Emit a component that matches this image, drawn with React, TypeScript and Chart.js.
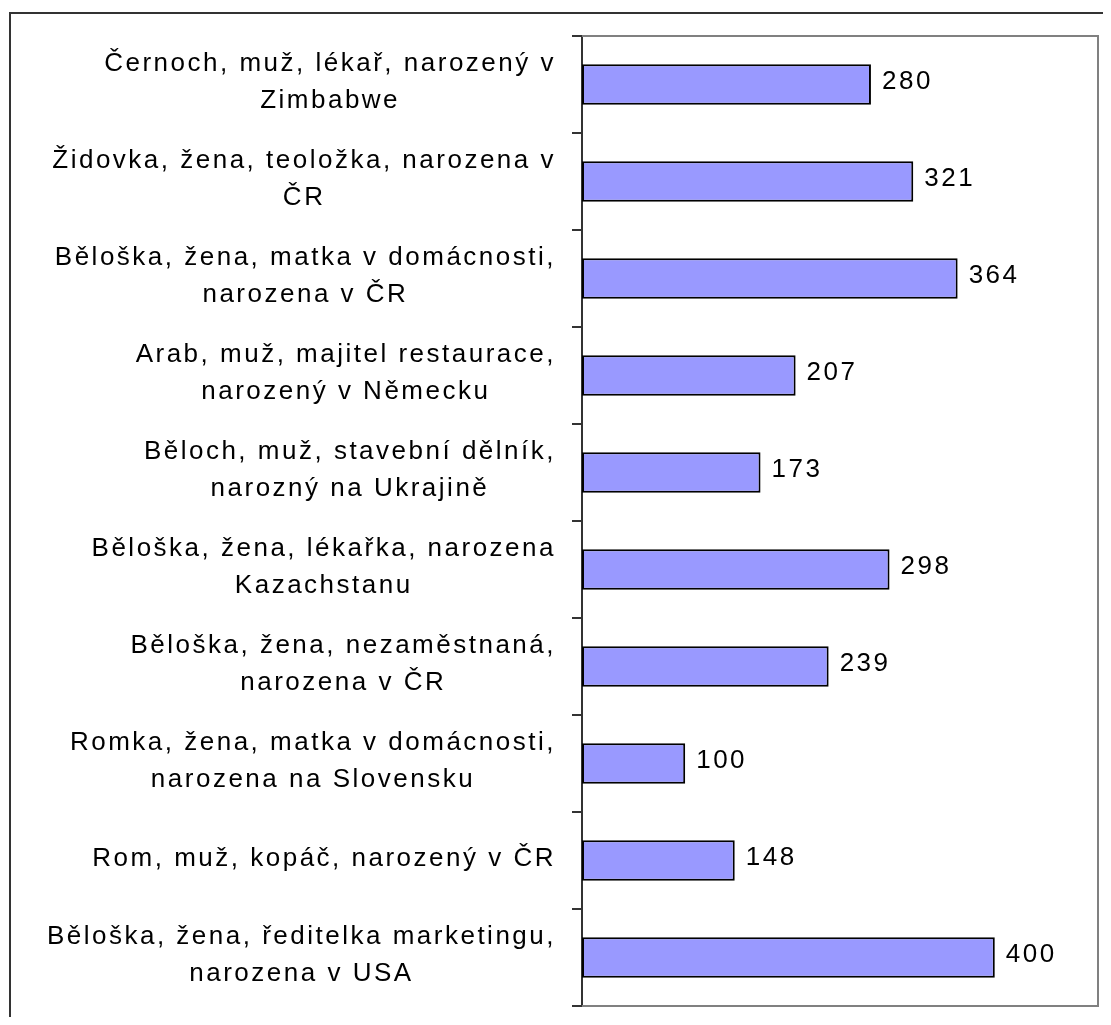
import { useEffect, useRef } from 'react';
import { Chart, registerables } from 'chart.js';

Chart.register(...registerables);

const categories: string[][] = [
  ['Černoch, muž, lékař, narozený v', 'Zimbabwe'],
  ['Židovka, žena, teoložka, narozena v', 'ČR'],
  ['Běloška, žena, matka v domácnosti,', 'narozena v ČR'],
  ['Arab, muž, majitel restaurace,', 'narozený v Německu'],
  ['Běloch, muž, stavební dělník,', 'narozný na Ukrajině'],
  ['Běloška, žena, lékařka, narozena', 'Kazachstanu'],
  ['Běloška, žena, nezaměstnaná,', 'narozena v ČR'],
  ['Romka, žena, matka v domácnosti,', 'narozena na Slovensku'],
  ['Rom, muž, kopáč, narozený v ČR'],
  ['Běloška, žena, ředitelka marketingu,', 'narozena v USA'],
];
const values: number[] = [280, 321, 364, 207, 173, 298, 239, 100, 148, 400];
const axisMin = 0;
const axisMax = 500;

const FONT = '"Liberation Sans", Arial, sans-serif';
const LETTER = '2.5px';
const LINE_H = 37;

const spacingPlugin = {
  id: 'spacing',
  beforeLayout(chart: any) {
    chart.ctx.letterSpacing = LETTER;
  },
  beforeDraw(chart: any) {
    const ctx = chart.ctx;
    ctx.letterSpacing = LETTER;
    // outer frame
    ctx.save();
    ctx.strokeStyle = '#333333';
    ctx.lineWidth = 2;
    ctx.strokeRect(2, 5, chart.width + 20, chart.height + 20);
    ctx.restore();
  },
};

const frameAndLabels = {
  id: 'frameAndLabels',
  afterDatasetsDraw(chart: any) {
    const ctx = chart.ctx;
    const { left, right, top, bottom } = chart.chartArea;
    ctx.save();
    ctx.strokeStyle = '#808080';
    ctx.lineWidth = 2;
    ctx.beginPath();
    ctx.moveTo(left, top);
    ctx.lineTo(right, top);
    ctx.lineTo(right, bottom);
    ctx.lineTo(left, bottom);
    ctx.stroke();

    ctx.letterSpacing = LETTER;
    ctx.fillStyle = '#000';
    ctx.textBaseline = 'middle';

    // value labels
    ctx.font = `26px ${FONT}`;
    ctx.textAlign = 'left';
    const meta = chart.getDatasetMeta(0);
    meta.data.forEach((bar: any, i: number) => {
      ctx.fillText(String(values[i]), bar.x + 11, bar.y - 3);
    });

    // category labels: block right-aligned to the axis, lines centred in block
    const yScale = chart.scales.y;
    const rightEdge = yScale.right - 26;
    ctx.textAlign = 'center';
    categories.forEach((lines, i) => {
      const yc = yScale.getPixelForTick(i);
      const blockW = Math.max(...lines.map((l) => ctx.measureText(l).width));
      const cx = rightEdge - blockW / 2;
      lines.forEach((l, j) => {
        const y = yc + (j - (lines.length - 1) / 2) * LINE_H - 2;
        ctx.fillText(l, cx, y);
      });
    });
    ctx.restore();
  },
};

export default function App() {
  const ref = useRef<HTMLCanvasElement | null>(null);
  useEffect(() => {
    if (!ref.current) return;
    const chart = new Chart(ref.current, {
      type: 'bar',
      data: {
        labels: categories,
        datasets: [
          {
            data: values,
            backgroundColor: '#9999FF',
            borderColor: '#000000',
            borderWidth: 2,
            borderSkipped: false,
            barPercentage: 0.42,
            categoryPercentage: 1,
          },
        ],
      },
      options: {
        indexAxis: 'y',
        animation: false,
        responsive: false,
        devicePixelRatio: 1,
        layout: { padding: { top: 28, right: 5, bottom: 11, left: 0 } },
        plugins: { legend: { display: false }, tooltip: { enabled: false } },
        scales: {
          x: { display: false, min: axisMin, max: axisMax },
          y: {
            grid: {
              display: true,
              drawOnChartArea: false,
              drawTicks: true,
              tickLength: 10,
              color: '#333333',
              lineWidth: 2,
              offset: true,
            },
            border: { display: true, color: '#333333', width: 2 },
            ticks: {
              display: false,
              font: { family: FONT, size: 26, lineHeight: 1.42 },
              color: '#000000',
              autoSkip: false,
            },
            afterFit: (s: any) => {
              s.width = 574;
              s.paddingTop = 0;
              s.paddingBottom = 0;
            },
          },
        },
      },
      plugins: [spacingPlugin, frameAndLabels],
    });
    return () => chart.destroy();
  }, []);
  return <canvas ref={ref} width={1095} height={1009} style={{ display: 'block' }} />;
}
